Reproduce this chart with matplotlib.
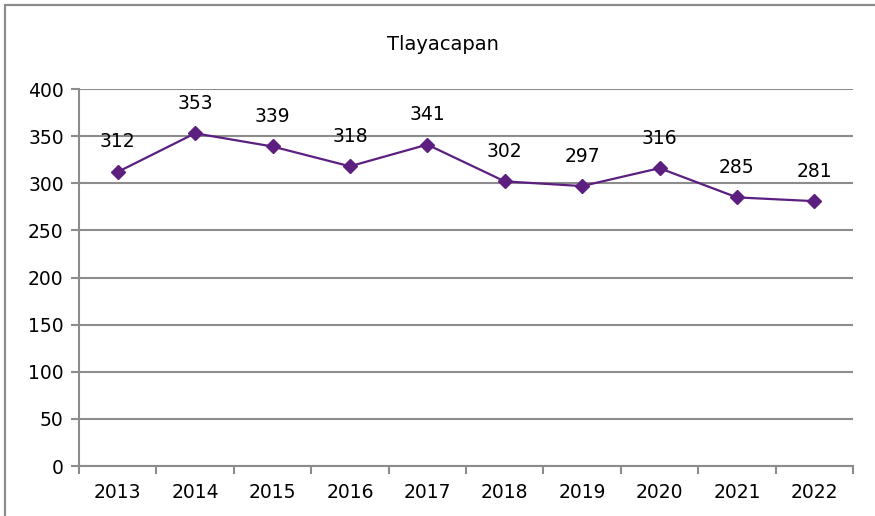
import matplotlib
matplotlib.use("Agg")
import matplotlib.pyplot as plt
from matplotlib.patches import Rectangle

years = ["2013", "2014", "2015", "2016", "2017", "2018", "2019", "2020", "2021", "2022"]
values = [312, 353, 339, 318, 341, 302, 297, 316, 285, 281]
yticks = [0, 50, 100, 150, 200, 250, 300, 350, 400]
title = "Tlayacapan"

plt.rcParams["font.family"] = ["DejaVu Sans"]

W, H = 875, 516
fig = plt.figure(figsize=(W / 100, H / 100), dpi=100)

# chart frame
fig.patches.append(Rectangle((5 / W, -0.1), 1.2, 1 - 5 / H + 0.1, transform=fig.transFigure,
                             fill=False, edgecolor="#8c8c8c", linewidth=1.6))

ax = fig.add_axes([79 / W, 50 / H, (853 - 79) / W, (466 - 89) / H])
x = list(range(len(years)))
color = "#5c1f80"
ax.plot(x, values, color=color, linewidth=1.6, marker="D", markersize=7,
        markerfacecolor=color, markeredgecolor=color, zorder=3)

fs = 13.5
for xi, v in zip(x, values):
    ax.annotate(str(v), (xi, v), xytext=(0, 30), textcoords="offset pixels",
                ha="center", va="center", fontsize=fs, color="#000000")

ax.set_xlim(-0.5, len(years) - 0.5)
ax.set_ylim(0, 400)
ax.set_yticks(yticks)
ax.set_yticklabels([str(t) for t in yticks], fontsize=fs)
ax.set_xticks(x)
ax.set_xticklabels(years, fontsize=fs)
ax.set_xticks([i - 0.5 for i in range(len(years) + 1)], minor=True)

ax.grid(axis="y", color="#8c8c8c", linewidth=1.5)
ax.set_axisbelow(True)
for s in ["top", "right"]:
    ax.spines[s].set_visible(False)
for s in ["left", "bottom"]:
    ax.spines[s].set_color("#8c8c8c")
    ax.spines[s].set_linewidth(1.5)

ax.tick_params(axis="y", length=6, width=1.5, color="#8c8c8c", pad=5)
ax.tick_params(axis="x", which="major", length=0, pad=12)
ax.tick_params(axis="x", which="minor", length=6, width=1.5, color="#8c8c8c")

fig.text(443 / W, 1 - 44 / H, title, ha="center", va="center", fontsize=14, color="#000000")

fig.savefig("out.png", dpi=100, facecolor="white")
